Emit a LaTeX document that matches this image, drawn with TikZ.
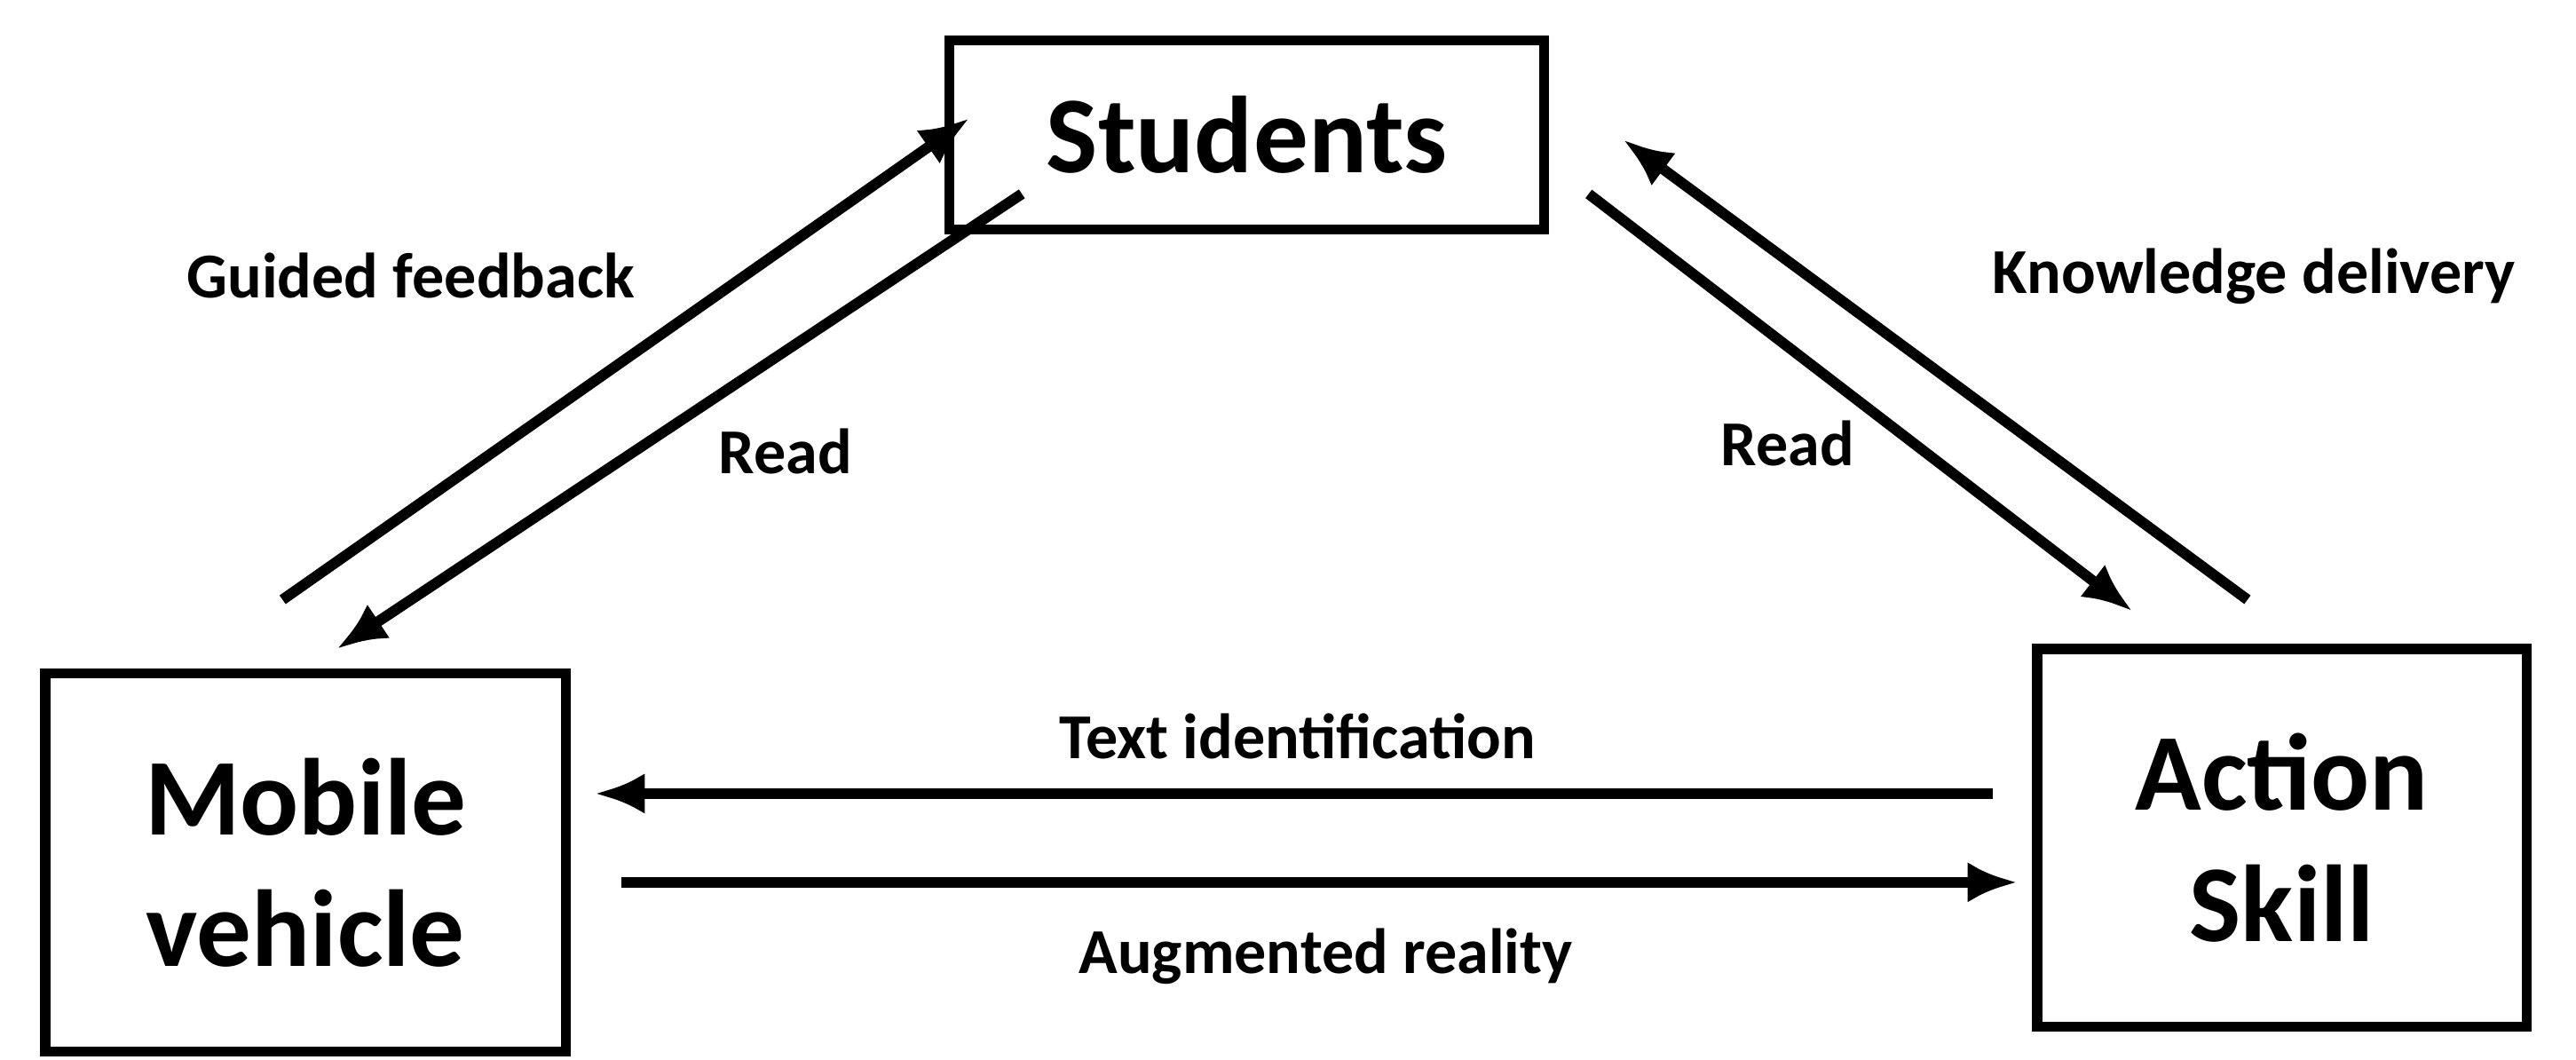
\documentclass[tikz,border=0pt]{standalone}
\usepackage{fontspec}
\setmainfont{Carlito}
\usetikzlibrary{arrows.meta}
\begin{document}
\begin{tikzpicture}[x=0.0185cm,y=-0.0185cm,
  box/.style={draw,line width=3.2pt,inner sep=0pt,font=\bfseries\fontsize{35}{42}\selectfont,align=center},
  arr/.style={line width=3.4pt,-{Latex[length=16pt,width=13pt]}},
  lab/.style={font=\bfseries\fontsize{20.5}{24}\selectfont}]
\useasboundingbox (0,0) rectangle (1568,645);
\node[box,minimum width=362*0.0185cm,minimum height=115*0.0185cm] (S) at (759,82) {Students};
\node[box,minimum width=317*0.0185cm,minimum height=230*0.0185cm] (M) at (186,525) {Mobile\\vehicle};
\node[box,minimum width=298*0.0185cm,minimum height=230*0.0185cm] (A) at (1389,510) {Action\\Skill};
\coordinate (g1) at (172,365); \coordinate (g2) at (590,72);
\coordinate (r1) at (622,118); \coordinate (r2) at (205,395);
\coordinate (r3) at (967,118); \coordinate (r4) at (1298,372);
\coordinate (k1) at (1368,365); \coordinate (k2) at (988,85);
\coordinate (t1) at (1213,483); \coordinate (t2) at (362,483);
\coordinate (a1) at (378,537); \coordinate (a2) at (1228,537);
\draw[arr] (g1) -- (g2);
\draw[arr] (r1) -- (r2);
\draw[arr] (r3) -- (r4);
\draw[arr] (k1) -- (k2);
\draw[arr] (t1) -- (t2);
\draw[arr] (a1) -- (a2);
\node[lab] (l1) at (250,168) {Guided feedback};
\node[lab] (l2) at (478,275) {Read};
\node[lab] (l3) at (1088,270) {Read};
\node[lab] (l4) at (1372,168) {Knowledge delivery};
\node[lab] (l5) at (790,448) {Text identification};
\node[lab] (l6) at (807,582) {Augmented reality};
\end{tikzpicture}
\end{document}
